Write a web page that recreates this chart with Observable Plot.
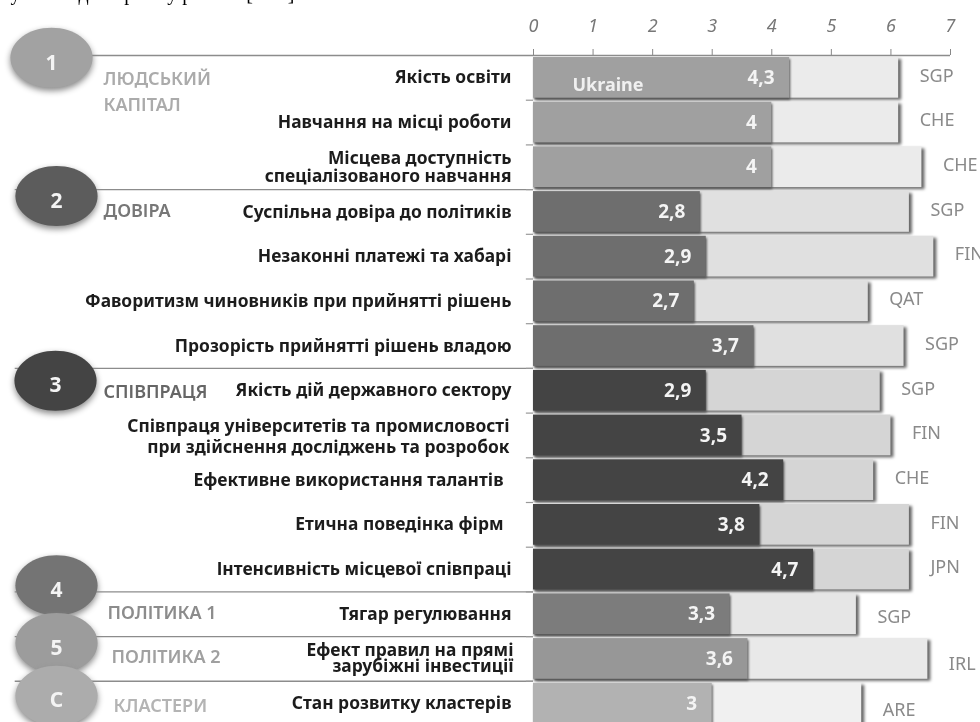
<!DOCTYPE html>
<html>
<head>
<meta charset="utf-8">
<script src="https://cdn.jsdelivr.net/npm/d3@7"></script>
<script src="https://cdn.jsdelivr.net/npm/@observablehq/plot@0.6"></script>
<style>html,body{margin:0;padding:0;background:#fff}svg{display:block}</style>
</head>
<body>
<div id="chart"></div>
<script>
// ---- data ----
const labels = [
  "Якість освіти",
  "Навчання на місці роботи",
  "Місцева доступність\nспеціалізованого навчання",
  "Суспільна довіра до політиків",
  "Незаконні платежі та хабарі",
  "Фаворитизм чиновників при прийнятті рішень",
  "Прозорість прийнятті рішень владою",
  "Якість дій державного сектору",
  "Співпраця університетів та промисловості\nпри здійснення досліджень та розробок",
  "Ефективне використання талантів",
  "Етична поведінка фірм",
  "Інтенсивність місцевої співпраці",
  "Тягар регулювання",
  "Ефект правил на прямі\nзарубіжні інвестиції",
  "Стан розвитку кластерів"
];
const ukraine = [4.3, 4, 4, 2.8, 2.9, 2.7, 3.7, 2.9, 3.5, 4.2, 3.8, 4.7, 3.3, 3.6, 3];
const best = [6.13, 6.13, 6.52, 6.31, 6.72, 5.62, 6.22, 5.82, 6.0, 5.71, 6.31, 6.31, 5.42, 6.62, 5.51];
const bestCountry = ["SGP","CHE","CHE","SGP","FIN","QAT","SGP","SGP","FIN","CHE","FIN","JPN","SGP","IRL","ARE"];
const rowGroup = [0,0,0,1,1,1,1,2,2,2,2,2,3,4,5];
const groupMarks = ["1","2","3","4","5","C"];
const groupNames = ["ЛЮДСЬКИЙ\nКАПІТАЛ","ДОВІРА","СПІВПРАЦЯ","ПОЛІТИКА 1","ПОЛІТИКА 2","КЛАСТЕРИ"];
const xTicks = [0,1,2,3,4,5,6,7];
const topLine = "у владі\u00a0\u00a0ресурсів [16].";

// ---- styles and layout ----
const darkFill = ["#a0a0a0","#6e6e6e","#444444","#7c7c7c","#979797","#b2b2b2"];
const lightFill = ["#ebebeb","#e0e0e0","#d5d5d5","#e6e6e6","#e9e9e9","#f0f0f0"];
const ovalFill = ["#a2a2a2","#5c5c5c","#444444","#747474","#9c9c9c","#acacac"];
const nameFill = ["#ababab","#777777","#666666","#8c8c8c","#a0a0a0","#b4b4b4"];
const ovalPlace = [[51,-20],[56,-16],[55,-10],[56,-29],[56,-16],[56,-8]];
const namePlace = [[103,12],[103,-3],[103,-1],[107,-3],[111,-4],[113,0]];
const font = "'Noto Sans', sans-serif";
const rows = labels.map((label,i)=>({label, value:ukraine[i], best:best[i], code:bestCountry[i], group:rowGroup[i]}));
const firstRow = groupMarks.map((_,g)=>rows.find(r=>r.group===g));
const step = 44.7;
const oval = {draw(ctx,size){
  const r=Math.sqrt(size/Math.PI), rx=r*1.37, k=0.5523;
  ctx.moveTo(-rx,0);
  ctx.bezierCurveTo(-rx,-k*r,-k*rx,-r,0,-r);
  ctx.bezierCurveTo(k*rx,-r,rx,-k*r,rx,0);
  ctx.bezierCurveTo(rx,k*r,k*rx,r,0,r);
  ctx.bezierCurveTo(-k*rx,r,-rx,k*r,-rx,0);
  ctx.closePath();
}};
const spaced = (v)=>function(i,s,val,d,c,next){const g=next(i,s,val,d,c); g.setAttribute("letter-spacing",v); return g;};

const labelText = (subset,dx,lineHeight)=>Plot.text(subset,{
  x:()=>0, y:"label", text:"label", textAnchor:"end", dx, lineHeight,
  fontWeight:700, fontSize:17.4, fill:"#1c1c1c"
});
const codeText = (subset,dy)=>Plot.text(subset,{x:"best", y:"label", text:"code", textAnchor:"start", dx:21, dy,
  fontSize:18, fill:"#8a8a8a"});
const plain = rows.filter(r=>![8,9,10,13].includes(labels.indexOf(r.label)));

const plot = Plot.plot({
  width:980, height:722,
  marginTop:54, marginLeft:0, marginRight:0, marginBottom:0,
  style:{fontFamily:font, background:"#fff", filter:"blur(0.5px)", overflow:"hidden"},
  x:{domain:[0,7], range:[533,950], label:null},
  y:{type:"band", domain:labels, range:[53,727.5], padding:0.09, round:false, axis:null},
  marks:[
    Plot.text([topLine],{frameAnchor:"top-left", lineAnchor:"top", dx:10, dy:-69, text:d=>d,
      fontFamily:"'Liberation Serif', serif", fontSize:20, fill:"#000", render:spaced("5")}),
    Plot.ruleY(firstRow,{y:"label", dy:-step/2, x1:-8.7, x2:0, stroke:"#8c8c8c", strokeWidth:1.4}),
    Plot.ruleY(rows.slice(1),{y:"label", dy:-step/2, x1:-0.12, x2:0, stroke:"#999", strokeWidth:1.2}),
    Plot.ruleY(rows.slice(0,1),{y:"label", dy:-step/2, x1:0, x2:7, stroke:"#8c8c8c", strokeWidth:1.4}),
    Plot.axisX({anchor:"top", ticks:xTicks, tickSize:6, tickPadding:17, stroke:"#888", fill:"#777",
      fontStyle:"italic", fontSize:18, tickFormat:d=>String(d), label:null}),
    Plot.ruleX([0],{stroke:"#bbb", y1:labels[0], y2:labels[14]}),
    Plot.barX(rows,{x1:()=>0, x2:"best", y:"label", fill:d=>lightFill[d.group],
      imageFilter:"drop-shadow(3px 2px 1.5px #666)"}),
    Plot.barX(rows,{x1:()=>0, x2:"value", y:"label", fill:d=>darkFill[d.group],
      imageFilter:"drop-shadow(1px 2px 1px #555)"}),
    Plot.text(rows,{x:"value", y:"label", text:d=>String(d.value).replace(".",","), textAnchor:"end", dx:-15,
      fontWeight:700, fontSize:19, fill:"#f4f4f4"}),
    Plot.text(rows.slice(0,1),{x:()=>0, y:"label", text:()=>"Ukraine", textAnchor:"start", dx:39, dy:7,
      fontWeight:700, fontSize:18, fill:"#f0f0f0"}),
    codeText(rows.slice(0,12),-2),
    codeText(rows.slice(12,13),3),
    codeText(rows.slice(13,14),5),
    codeText(rows.slice(14),7),
    labelText(plain.filter(r=>r.label.indexOf("\n")<0),-22,1),
    labelText([rows[2]],-22,1.05),
    labelText([rows[8]],-24,1.25),
    labelText([rows[9],rows[10]],-30,1),
    labelText([rows[13]],-20,0.9),
    ...groupMarks.flatMap((m,g)=>[
      Plot.dot([firstRow[g]],{y:"label", frameAnchor:"left", dx:ovalPlace[g][0], dy:ovalPlace[g][1],
        symbol:oval, r:30, fill:ovalFill[g], stroke:"none",
        imageFilter:"drop-shadow(0 3px 3px #888)"}),
      Plot.text([firstRow[g]],{y:"label", frameAnchor:"left", textAnchor:"middle", dx:ovalPlace[g][0], dy:ovalPlace[g][1]+5,
        text:()=>m, fontWeight:700, fontSize:21, fill:"#f4f4f4"}),
      Plot.text([firstRow[g]],{y:"label", frameAnchor:"left", dx:namePlace[g][0], dy:namePlace[g][1],
        text:()=>groupNames[g], textAnchor:"start", lineHeight:1.4, fontWeight:600, fontSize:18, fill:nameFill[g]})
    ])
  ]
});
document.getElementById("chart").appendChild(plot);
</script>
</body>
</html>
